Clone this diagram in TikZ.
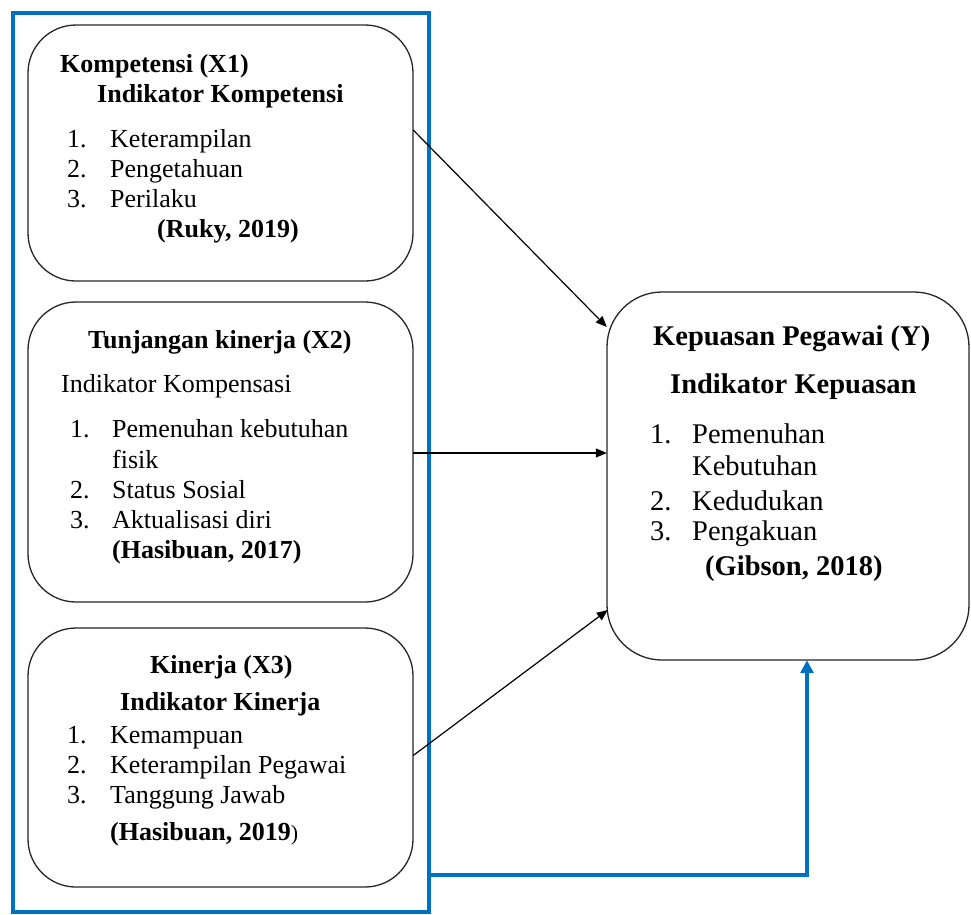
\documentclass[tikz,border=0pt]{standalone}
\usepackage{fontspec}
\setmainfont{Liberation Serif}
\usetikzlibrary{arrows.meta,calc}
\definecolor{wblue}{RGB}{0,112,192}
\tikzset{
  x=1pt,y=-1pt,
  rbox/.style={draw=black!85,line width=1.3pt,rounded corners=48pt},
  ybox/.style={draw=black!85,line width=1.3pt,rounded corners=55pt},
  tx/.style={anchor=base west,inner sep=0pt,font=\fontsize{26}{30}\selectfont},
  txb/.style={tx,font=\fontsize{26}{30}\selectfont\bfseries},
  ty/.style={anchor=base west,inner sep=0pt,font=\fontsize{28.5}{32}\selectfont},
  tyb/.style={ty,font=\fontsize{28.5}{32}\selectfont\bfseries},
  conn/.style={line width=1.2pt,-{Triangle[length=11pt,width=9pt]}},
  bconn/.style={wblue,line width=4pt,-{Triangle[length=13pt,width=13pt]}}
}
\begin{document}
\begin{tikzpicture}
\useasboundingbox[fill=white] (0,0) rectangle (971,914);
% blue frame
\draw[wblue,line width=4pt] (13,13) rectangle (429,912);
\coordinate (frameR) at (429,875);
% boxes
\draw[rbox] (28,25) rectangle (413,281);
\draw[rbox] (28,302) rectangle (413,602);
\draw[rbox] (28,628) rectangle (413,887);
\draw[ybox] (607,292) rectangle (969,660);
\node[inner sep=0,minimum width=385pt,minimum height=256pt] (b1) at (220.5,153) {};
\node[inner sep=0,minimum width=385pt,minimum height=300pt] (b2) at (220.5,452) {};
\node[inner sep=0,minimum width=385pt,minimum height=259pt] (b3) at (220.5,757.5) {};
\node[inner sep=0,minimum width=362pt,minimum height=368pt] (y) at (788,476) {};
% box 1 text
\node[txb] (t11) at (60,72) {Kompetensi (X1)};
\node[txb] (t12) at (97,102) {Indikator Kompetensi};
\node[tx] (n11) at (67,147) {1.};\node[tx] (t13) at (110,147) {Keterampilan};
\node[tx] (n12) at (67,177) {2.};\node[tx] (t14) at (110,177) {Pengetahuan};
\node[tx] (n13) at (67,207) {3.};\node[tx] (t15) at (110,207) {Perilaku};
\node[txb] (t16) at (157,237) {(Ruky, 2019)};
% box 2 text
\node[txb] (t21) at (88,348) {Tunjangan kinerja (X2)};
\node[tx] (t22) at (61,392) {Indikator Kompensasi};
\node[tx] (n21) at (70,437) {1.};\node[tx] (t23) at (112,437) {Pemenuhan kebutuhan};
\node[tx] (t24) at (112,468) {fisik};
\node[tx] (n22) at (70,498) {2.};\node[tx] (t25) at (112,498) {Status Sosial};
\node[tx] (n23) at (70,528) {3.};\node[tx] (t26) at (112,528) {Aktualisasi diri};
\node[txb] (t27) at (112,558) {(Hasibuan, 2017)};
% box 3 text
\node[txb] (t31) at (150,673) {Kinerja (X3)};
\node[txb] (t32) at (120,710) {Indikator Kinerja};
\node[tx] (n31) at (67,743) {1.};\node[tx] (t33) at (110,743) {Kemampuan};
\node[tx] (n32) at (67,773) {2.};\node[tx] (t34) at (110,773) {Keterampilan Pegawai};
\node[tx] (n33) at (67,803) {3.};\node[tx] (t35) at (110,803) {Tanggung Jawab};
\node[txb] (t36) at (110,840) {(Hasibuan, 2019\textmd{\fontsize{22}{26}\selectfont)}};
% box Y text
\node[tyb] (ty1) at (653,345) {Kepuasan Pegawai (Y)};
\node[tyb] (ty2) at (670,393) {Indikator Kepuasan};
\node[ty] (ny1) at (650,443) {1.};\node[ty] (ty3) at (692,443) {Pemenuhan};
\node[ty] (ty4) at (692,475) {Kebutuhan};
\node[ty] (ny2) at (650,510) {2.};\node[ty] (ty5) at (692,510) {Kedudukan};
\node[ty] (ny3) at (650,540) {3.};\node[ty] (ty6) at (692,540) {Pengakuan};
\node[tyb] (ty7) at (705,575) {(Gibson, 2018)};
% connectors
\draw[conn] ($(b1.east)+(0,-23)$) -- ($(y.west)+(0,-149)$);
\draw[conn] ($(b2.east)+(0,1)$) -- ($(y.west)+(0,-23)$);
\draw[conn] ($(b3.east)+(0,-2)$) -- ($(y.west)+(1,134)$);
\draw[bconn] (frameR) -| (y.south -| 807,0);
\end{tikzpicture}
\end{document}
